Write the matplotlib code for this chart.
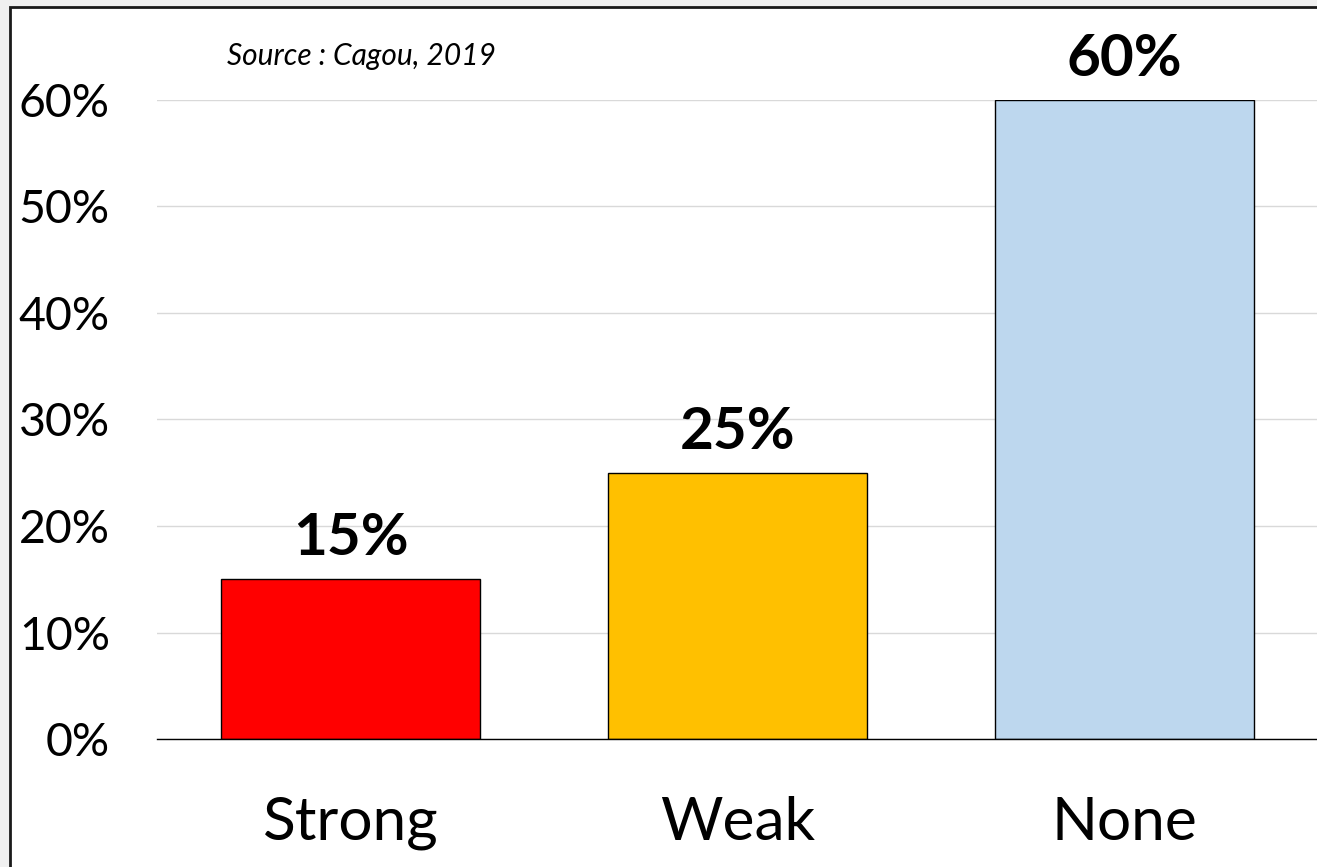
import matplotlib.pyplot as plt
import matplotlib.ticker as ticker
from matplotlib.patches import Rectangle

plt.rcParams['font.family'] = ['Lato', 'DejaVu Sans']

categories = ['Strong', 'Weak', 'None']
shares = [0.15, 0.25, 0.60]
bar_colors = ['#FF0000', '#FFC000', '#BDD7EE']
value_labels = ['15%', '25%', '60%']

W, H = 1317, 867
fig = plt.figure(figsize=(W / 100, H / 100), dpi=100)
fig.patch.set_facecolor('#F0F0F0')

# white chart area with dark frame (right and bottom edges run off the image)
fig.patches.append(Rectangle((10 / W, -0.05), 1.1, (H - 7) / H + 0.05,
                             transform=fig.transFigure, facecolor='white',
                             edgecolor='#1a1a1a', linewidth=2, zorder=-5))

ax = fig.add_axes([157 / W, 128 / H, (1318 - 157) / W, (739 - 100) / H])
ax.set_facecolor('none')

x = range(len(categories))
bars = ax.bar(x, shares, width=0.667, color=bar_colors, edgecolor='black',
              linewidth=1, zorder=3)
ax.bar_label(bars, labels=value_labels, padding=10, fontsize=42,
             fontweight='bold', color='black')

ax.set_xlim(-0.5, 2.5)
ax.set_ylim(0, 0.6)
ax.yaxis.set_major_locator(ticker.MultipleLocator(0.1))
ax.yaxis.set_major_formatter(ticker.PercentFormatter(1.0, decimals=0))
ax.grid(axis='y', color='#D9D9D9', linewidth=1, zorder=0)
ax.set_axisbelow(True)

ax.set_xticks(list(x))
ax.set_xticklabels(categories, fontsize=43.5)
ax.tick_params(axis='x', length=0, pad=41)
ax.tick_params(axis='y', length=0, pad=34, labelsize=33.5)

for side in ['top', 'right', 'left']:
    ax.spines[side].set_visible(False)
ax.spines['bottom'].set_color('black')
ax.spines['bottom'].set_linewidth(1)
ax.spines['bottom'].set_zorder(4)

fig.text(227 / W, 1 - 65 / H, 'Source : Cagou, 2019', fontsize=21.5,
         fontstyle='italic', ha='left', va='baseline')

fig.savefig('out.png', dpi=100, facecolor=fig.get_facecolor())
